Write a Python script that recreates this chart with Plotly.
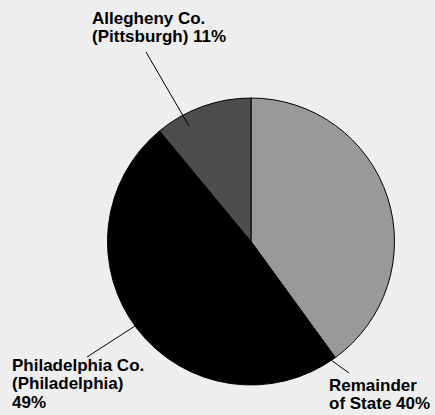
import plotly.graph_objects as go

# Population share by area
areas = ["Remainder of State", "Philadelphia Co. (Philadelphia)", "Allegheny Co. (Pittsburgh)"]
shares = [40, 49, 11]
slice_colors = ["#999999", "#000000", "#4d4d4d"]

W, H = 435, 415


def px(x):
    return x / W


def py(y):
    return 1 - y / H


fig = go.Figure(
    go.Pie(
        labels=areas,
        values=shares,
        sort=False,
        direction="clockwise",
        rotation=0,
        marker=dict(colors=slice_colors, line=dict(color="#000000", width=1)),
        textinfo="none",
        hoverinfo="label+percent",
        showlegend=False,
        domain=dict(x=[px(107), px(395)], y=[py(385), py(98)]),
    )
)

label_font = dict(family="Liberation Sans, Arial, sans-serif", size=17, color="#000000")

# Each label is set line by line for tight leading
label_lines = [
    (["Allegheny Co.", "(Pittsburgh) %d%%" % shares[2]], 91, [18.5, 36]),
    (["Philadelphia Co.", "(Philadelphia)", "%d%%" % shares[1]], 11, [365, 383.5, 402]),
    (["Remainder", "of State %d%%" % shares[0]], 328, [385, 403]),
]
for lines, x, ys in label_lines:
    for line, y in zip(lines, ys):
        fig.add_annotation(
            text="<b>%s</b>" % line, x=px(x), y=py(y), xref="paper", yref="paper",
            xanchor="left", yanchor="middle", align="left", showarrow=False,
            font=label_font, borderpad=0,
        )

leaders = [
    ((146, 52), (189, 126)),
    ((87, 357), (135, 326)),
    ((331, 360), (349, 373)),
]
for (x0, y0), (x1, y1) in leaders:
    fig.add_shape(
        type="line", xref="paper", yref="paper",
        x0=px(x0), y0=py(y0), x1=px(x1), y1=py(y1),
        line=dict(color="#000000", width=1),
    )

fig.update_layout(
    width=W, height=H,
    margin=dict(l=0, r=0, t=0, b=0),
    paper_bgcolor="#eeeeee",
    plot_bgcolor="#eeeeee",
)

fig.write_html("out.html")
